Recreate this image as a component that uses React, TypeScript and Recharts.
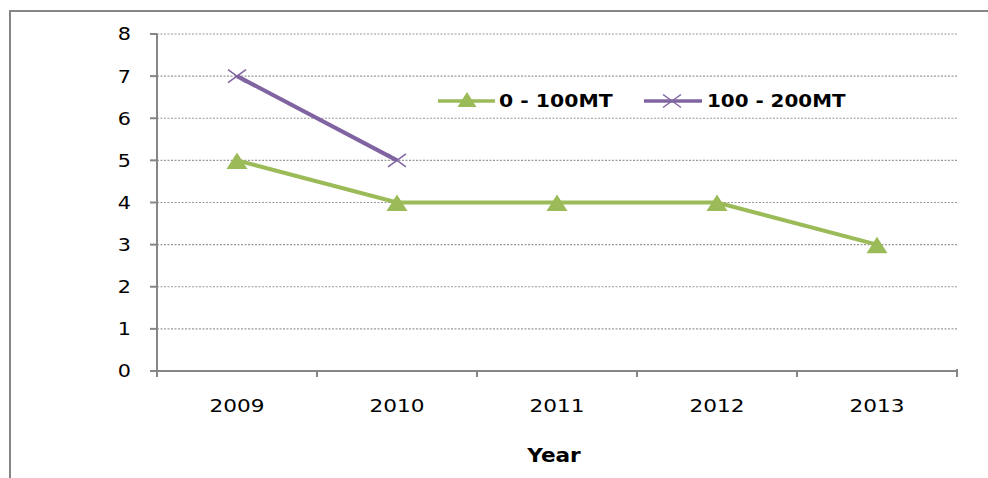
import { LineChart, Line, XAxis, YAxis, CartesianGrid, Legend, Label } from 'recharts'

const years = ['2009', '2010', '2011', '2012', '2013']
const smallFleet = [5, 4, 4, 4, 3]
const midFleet: (number | null)[] = [7, 5, null, null, null]
const yTicks = [0, 1, 2, 3, 4, 5, 6, 7, 8]

const GREEN = '#9BBB59'
const PURPLE = '#8064A2'
const AXIS = '#868686'
const FONT = '"DejaVu Sans", Verdana, sans-serif'

const data = years.map((y, i) => ({ year: y, small: smallFleet[i], mid: midFleet[i] }))

const Triangle = ({ cx, cy }: any) => {
  if (cx == null || cy == null) return null
  return <path d={`M${cx},${cy - 8} L${cx + 10.5},${cy + 8.5} L${cx - 10.5},${cy + 8.5} Z`} fill={GREEN} />
}

const Cross = ({ cx, cy }: any) => {
  if (cx == null || cy == null) return null
  return (
    <path
      d={`M${cx - 9},${cy - 6.5} L${cx + 9},${cy + 6.5} M${cx + 9},${cy - 6.5} L${cx - 9},${cy + 6.5}`}
      stroke={PURPLE}
      strokeWidth={1.5}
      fill="none"
    />
  )
}

// labels sit in the band centre, tick marks on the band edges
const YearTick = ({ x, y, payload, index, width, visibleTicksCount }: any) => {
  const half = width / visibleTicksCount / 2
  return (
    <g>
      <line x1={x - half} y1={y} x2={x - half} y2={y + 6} stroke={AXIS} strokeWidth={2} />
      {index === visibleTicksCount - 1 && (
        <line x1={x + half} y1={y - 2} x2={x + half} y2={y + 6} stroke={AXIS} strokeWidth={2} />
      )}
      <text transform={`translate(${x},${y + 41}) scale(1.27,1)`} textAnchor="middle" fontSize={17} fontFamily={FONT} fill="#000">
        {payload.value}
      </text>
    </g>
  )
}

const ValueTick = ({ x, y, payload }: any) => (
  <text transform={`translate(${x},${y}) scale(1.15,1)`} dy="0.36em" textAnchor="end" fontSize={18} fontFamily={FONT} fill="#000">
    {payload.value}
  </text>
)

const YearLabel = ({ viewBox }: any) => (
  <text
    transform={`translate(${viewBox.x + viewBox.width / 2 - 3},${viewBox.y + 91}) scale(1.08,1)`}
    textAnchor="middle"
    fontSize={20}
    fontWeight={700}
    fontFamily={FONT}
    fill="#000"
  >
    Year
  </text>
)

const LegendBox = () => (
  <svg width={420} height={26} style={{ display: 'block' }}>
    <line x1={2} y1={12} x2={59} y2={12} stroke={GREEN} strokeWidth={3.5} />
    <path d="M31,3 L40.5,18 L21.5,18 Z" fill={GREEN} />
    <text transform="translate(63,18) scale(1.2,1)" fontSize={17} fontWeight={700} fontFamily={FONT} fill="#000">
      0 - 100MT
    </text>
    <line x1={208} y1={12} x2={266} y2={12} stroke={PURPLE} strokeWidth={3.5} />
    <path d="M227,5.5 L245,18.5 M245,5.5 L227,18.5" stroke={PURPLE} strokeWidth={1.5} />
    <text transform="translate(271,18) scale(1.17,1)" fontSize={17} fontWeight={700} fontFamily={FONT} fill="#000">
      100 - 200MT
    </text>
  </svg>
)

export default function App() {
  return (
    <div style={{ position: 'absolute', left: 0, top: 0, width: 988, height: 478, background: '#fff' }}>
      <div style={{ position: 'absolute', left: 9, top: 10, right: 0, bottom: 0, borderLeft: `2px solid ${AXIS}`, borderTop: `2px solid ${AXIS}` }} />
      <LineChart width={988} height={478} data={data} margin={{ top: 34, right: 31, left: 0, bottom: 7 }}>
        <CartesianGrid stroke="#999" strokeWidth={1.2} strokeDasharray="2 1.5" vertical={false} />
        <XAxis
          dataKey="year"
          tick={<YearTick />}
          tickLine={false}
          tickSize={0}
          tickMargin={0}
          interval={0}
          height={100}
          padding={{ left: 80, right: 80 }}
          axisLine={{ stroke: AXIS, strokeWidth: 2 }}
        >
          <Label content={<YearLabel />} />
        </XAxis>
        <YAxis
          domain={[0, 8]}
          ticks={yTicks}
          width={157}
          interval={0}
          tick={<ValueTick />}
          tickSize={7}
          tickMargin={19}
          tickLine={{ stroke: AXIS, strokeWidth: 2 }}
          axisLine={{ stroke: AXIS, strokeWidth: 2 }}
        />
        <Legend
          layout="horizontal"
          verticalAlign="middle"
          align="center"
          content={<LegendBox />}
          wrapperStyle={{ top: 89, left: 436, width: 420, height: 26 }}
        />
        <Line
          dataKey="small"
          name="0 - 100MT"
          stroke={GREEN}
          strokeWidth={4}
          dot={<Triangle />}
          activeDot={false}
          isAnimationActive={false}
        />
        <Line
          dataKey="mid"
          name="100 - 200MT"
          stroke={PURPLE}
          strokeWidth={4}
          dot={<Cross />}
          activeDot={false}
          isAnimationActive={false}
        />
      </LineChart>
    </div>
  )
}
